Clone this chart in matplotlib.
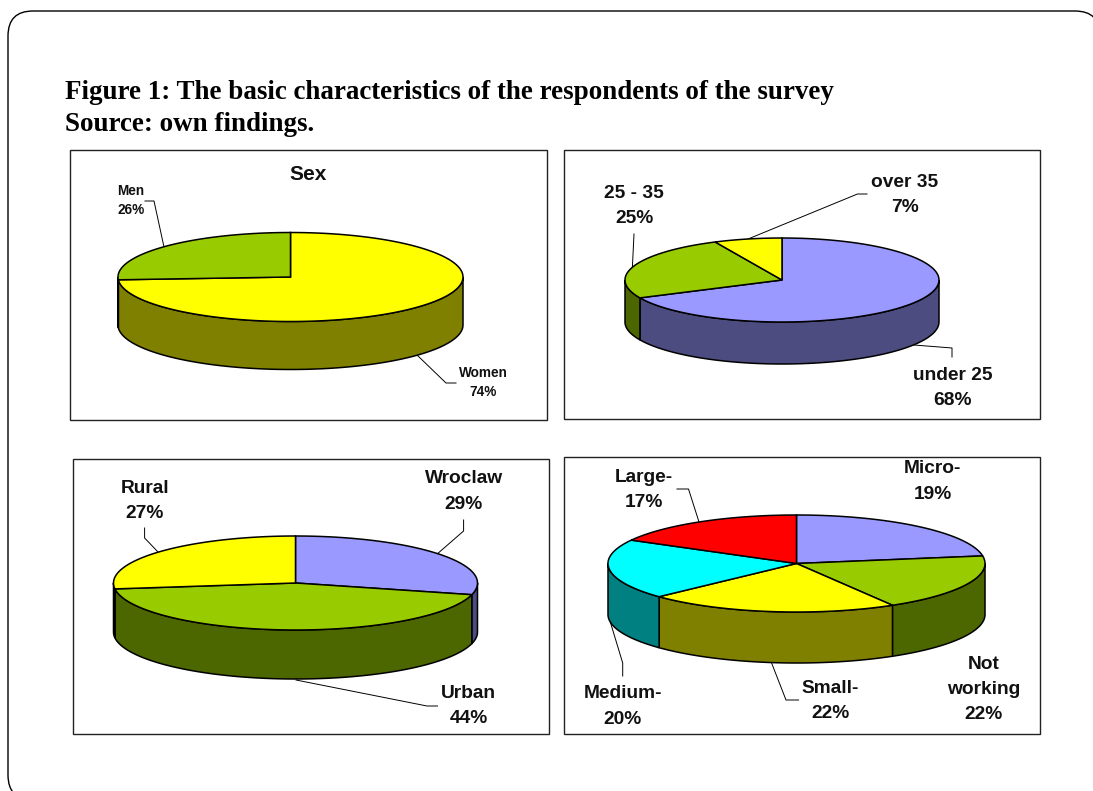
import numpy as np
import matplotlib

matplotlib.use("Agg")
import matplotlib.pyplot as plt
from matplotlib.patches import FancyBboxPatch, Rectangle

title_lines = [
    "Figure 1: The basic characteristics of the respondents of the survey",
    "Source: own findings.",
]

# slice sizes, in percent, clockwise from 12 o'clock
sex_sizes = [74, 26]
age_sizes = [68, 25, 7]
place_sizes = [29, 44, 27]
firm_sizes = [22.5, 19, 21.5, 20, 17]

PERI = "#9999ff"
GREEN = "#99cc00"
YELLOW = "#ffff00"
CYAN = "#00ffff"
RED = "#ff0000"

sex_colours = [YELLOW, GREEN]
age_colours = [PERI, GREEN, YELLOW]
place_colours = [PERI, GREEN, YELLOW]
firm_colours = [PERI, GREEN, YELLOW, CYAN, RED]

W, H = 1093, 791
SANS = "Liberation Sans"
SERIF = "Liberation Serif"


def pie3d(ax, cx, cy, rx, ry, depth, sizes, colours):
    edges = np.radians(np.concatenate([[0], np.cumsum(sizes)]) * 3.6)
    # rim first, only the front half (90 to 270 degrees) can be seen
    for a, b, c in zip(edges[:-1], edges[1:], colours):
        lo, hi = max(a, np.pi / 2), min(b, 3 * np.pi / 2)
        if lo < hi:
            t = np.linspace(lo, hi, 80)
            x = cx + rx * np.sin(t)
            y = cy - ry * np.cos(t)
            ax.fill(
                np.r_[x, x[::-1]],
                np.r_[y, y[::-1] + depth],
                fc=matplotlib.colors.to_hex(np.array(matplotlib.colors.to_rgb(c)) * 0.5),
                ec="k",
                lw=1.1,
                zorder=3,
            )
    for a, b, c in zip(edges[:-1], edges[1:], colours):
        t = np.linspace(a, b, 120)
        x = np.r_[cx, cx + rx * np.sin(t)]
        y = np.r_[cy, cy - ry * np.cos(t)]
        ax.fill(x, y, fc=c, ec="k", lw=1.1, zorder=4)


def label(ax, x, y, s, size=13.8, gap=1.62, ha="center"):
    ax.text(
        x, y, s, family=SANS, weight="bold", size=size, ha=ha, va="center",
        multialignment="center", linespacing=gap, color="#111111", zorder=6,
    )


fig = plt.figure(figsize=(W / 100, H / 100), dpi=100)
ax = fig.add_axes([0, 0, 1, 1])
ax.set_xlim(0, W)
ax.set_ylim(H, 0)
ax.axis("off")

ax.add_patch(
    FancyBboxPatch(
        (33, 36), 1042, 739, boxstyle="round,pad=25,rounding_size=25",
        fc="w", ec="k", lw=1.0, zorder=0,
    )
)

ax.text(65, 99, title_lines[0], family=SERIF, weight="bold", size=19.45, color="k")
ax.text(65, 131, title_lines[1], family=SERIF, weight="bold", size=19.45, color="k")

# panel frames
for x0, y0, x1, y1 in [(70, 150, 547, 420), (564, 150, 1040, 419), (73, 459, 549, 734), (564, 457, 1040, 734)]:
    ax.add_patch(Rectangle((x0, y0), x1 - x0, y1 - y0, fc="w", ec="#222222", lw=1.0, zorder=1))

# leader lines
for xs, ys in [
    ([145, 154, 164], [201, 201, 247]),
    ([417, 446, 456], [355, 383, 383]),
    ([634, 632.4], [234, 267]),
    ([867, 857.5, 745.6], [194, 194, 240]),
    ([914, 952, 952], [345, 348, 357]),
    ([144.6, 144.6, 158], [528, 538, 552]),
    ([463.6, 463.6, 436], [520, 531, 555]),
    ([296, 427, 437.5], [680, 706, 706]),
    ([677, 688.5, 699], [489, 489, 522]),
    ([622.7, 622.7, 610.6], [676, 663, 623]),
    ([771.6, 786, 798.6], [663, 700, 700]),
]:
    ax.plot(xs, ys, "-", c="k", lw=0.7, zorder=2)

pie3d(ax, 290.5, 277, 172.5, 44.5, 48, sex_sizes, sex_colours)
pie3d(ax, 782, 280, 157, 42, 42, age_sizes, age_colours)
pie3d(ax, 295.5, 583, 182, 47, 49, place_sizes, place_colours)
pie3d(ax, 796.5, 563.5, 188.5, 48.5, 51, firm_sizes, firm_colours)

label(ax, 308, 174, "Sex", size=15)
label(ax, 117, 200.5, "Men\n26%", size=9.8, gap=1.5, ha="left")
label(ax, 483, 382.5, "Women\n74%", size=9.8, gap=1.5)

label(ax, 634, 206, "25 - 35\n25%")
label(ax, 905, 195, "over 35\n7%")
label(ax, 953, 388, "under 25\n68%")

label(ax, 145, 501, "Rural\n27%")
label(ax, 463.6, 491.5, "Wroclaw\n29%")
label(ax, 468.6, 706, "Urban\n44%")

label(ax, 932.6, 481.5, "Micro-\n19%")
label(ax, 983.5, 689.5, "Not\nworking\n22%")
label(ax, 830.5, 701, "Small-\n22%")
label(ax, 622.7, 706.5, "Medium-\n20%")
label(ax, 644, 490, "Large-\n17%")

fig.savefig("out.png", dpi=100)
